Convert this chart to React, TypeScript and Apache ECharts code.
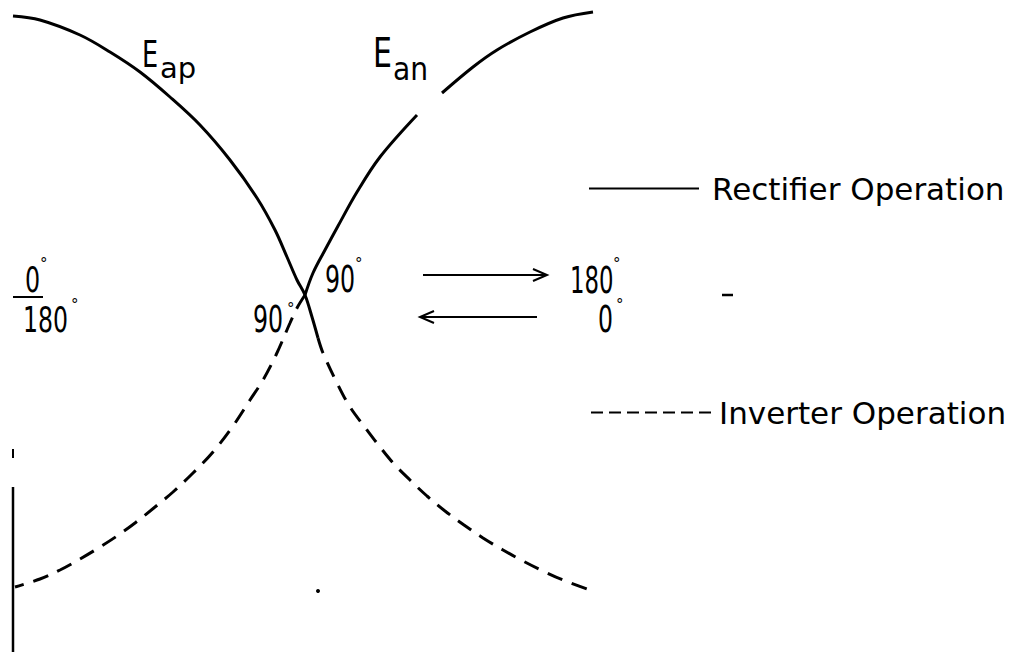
import React, { useEffect, useRef } from 'react';
import * as echarts from 'echarts';

// Figure coordinates (x to the right, y downward)
const apSolid: number[][] = [
  [13, 16], [40, 20], [80, 35], [110, 52], [140, 72], [170, 97], [200, 125],
  [230, 160], [257, 198], [275, 230], [287, 257], [297, 280], [305, 295],
  [312, 317], [318, 338],
];
const apDashed: number[][] = [
  [318, 338], [323, 353], [337, 383], [350, 407], [367, 430], [380, 447],
  [394, 464], [410, 480], [427, 496], [445, 511], [464, 525], [483, 538],
  [503, 550], [523, 561], [543, 571], [563, 580], [590, 590],
];
const anSolidUpper: number[][] = [
  [593, 12], [563, 18], [530, 32], [497, 50], [473, 67], [442, 93],
];
const anSolidLower: number[][] = [
  [417, 115], [380, 157], [357, 192], [338, 226], [325, 250], [313, 273],
  [305, 295],
];
const anDashed: number[][] = [
  [305, 295], [297, 308], [290, 323], [276, 355], [263, 380], [250, 400],
  [233, 426], [213, 452], [193, 473], [173, 492], [155, 507], [135, 523],
  [117, 536], [100, 547], [80, 559], [60, 570], [40, 579], [15, 587],
];

const RECT = 'Rectifier Operation';
const INV = 'Inverter Operation';
const FONT = 'DejaVu Sans';

export default function App() {
  const ref = useRef<HTMLDivElement>(null);
  useEffect(() => {
    if (!ref.current) return;
    const chart = echarts.init(ref.current, null, { renderer: 'svg' });

    const txt = (text: string, x: number, y: number, fontSize: number, scaleX = 1) => ({
      type: 'text',
      x,
      y,
      scaleX,
      style: {
        text,
        fontSize,
        fontFamily: FONT,
        fill: '#000',
        align: 'left',
        verticalAlign: 'middle',
      },
    });
    const deg = (x: number, y: number) => txt('°', x, y, 15);
    const seg = (x1: number, y1: number, x2: number, y2: number, w = 2) => ({
      type: 'line',
      shape: { x1, y1, x2, y2 },
      style: { stroke: '#000', lineWidth: w },
    });
    const head = (pts: number[][]) => ({
      type: 'polyline',
      shape: { points: pts },
      style: { stroke: '#000', lineWidth: 2, fill: null },
    });

    const anSolid = [...anSolidUpper, '-', ...anSolidLower];

    const lineSeries = (name: string, data: any[], dashed: boolean) => ({
      type: 'line',
      name,
      data,
      smooth: 0.35,
      symbol: 'none',
      connectNulls: false,
      silent: true,
      lineStyle: {
        color: '#000',
        width: 3,
        type: dashed ? [16, 10] : 'solid',
      },
      itemStyle: { color: '#000' },
    });

    chart.setOption({
      animation: false,
      backgroundColor: '#fff',
      grid: { left: 0, right: 0, top: 0, bottom: 0 },
      xAxis: { type: 'value', min: 0, max: 1016, show: false },
      yAxis: { type: 'value', min: 0, max: 652, inverse: true, show: false },
      legend: [
        {
          left: 588,
          top: 173,
          padding: 0,
          selectedMode: false,
          itemWidth: 110,
          itemHeight: 14,
          textStyle: { fontSize: 31, fontFamily: FONT, color: '#000', padding: [0, 0, 0, 8] },
          data: [{
            name: RECT,
            itemStyle: { opacity: 0, color: 'transparent', borderWidth: 0 },
            lineStyle: { width: 2, type: 'solid', color: '#000' },
          }],
        },
        {
          left: 590,
          top: 397,
          padding: 0,
          selectedMode: false,
          itemWidth: 123,
          itemHeight: 14,
          textStyle: { fontSize: 31, fontFamily: FONT, color: '#000', padding: [0, 0, 0, 0] },
          data: [{
            name: INV,
            itemStyle: { opacity: 0, color: 'transparent', borderWidth: 0 },
            lineStyle: { width: 2, type: [12, 6], color: '#000' },
          }],
        },
      ],
      series: [
        lineSeries(RECT, apSolid, false),
        lineSeries(INV, apDashed, true),
        lineSeries(RECT, anSolid, false),
        lineSeries(INV, anDashed, true),
      ],
      graphic: [
        // curve labels
        txt('E', 142, 54, 37, 0.69),
        txt('ap', 160, 68, 29, 1.0),
        txt('E', 373, 53, 40, 0.75),
        txt('an', 393, 69, 32, 0.88),
        // crossing labels
        txt('90', 325, 279, 37, 0.64),
        deg(355, 264),
        txt('90', 253, 319, 37, 0.64),
        deg(287, 309),
        // left labels
        txt('0', 25, 280, 36, 0.66),
        deg(40, 264),
        seg(13, 297, 43, 297),
        txt('180', 23, 320, 36, 0.655),
        deg(71, 305),
        // arrows and right labels
        seg(423, 275, 547, 275),
        head([[533, 269], [547, 275], [533, 281]]),
        seg(537, 317, 420, 317),
        head([[434, 311], [420, 317], [434, 323]]),
        txt('180', 570, 280, 38, 0.6),
        deg(613, 264),
        txt('0', 598, 319, 38, 0.62),
        deg(616, 305),
        seg(722, 295, 733, 295, 2.5),
        // axis fragment at lower left
        seg(13, 487, 13, 652, 2.5),
        seg(13, 449, 13, 458, 2),
        { type: 'circle', shape: { cx: 318, cy: 591, r: 2 }, style: { fill: '#000' } },
      ],
    });
    return () => chart.dispose();
  }, []);
  return (
    <div
      ref={ref}
      style={{ position: 'fixed', left: 0, top: 0, width: 1016, height: 652 }}
    />
  );
}
